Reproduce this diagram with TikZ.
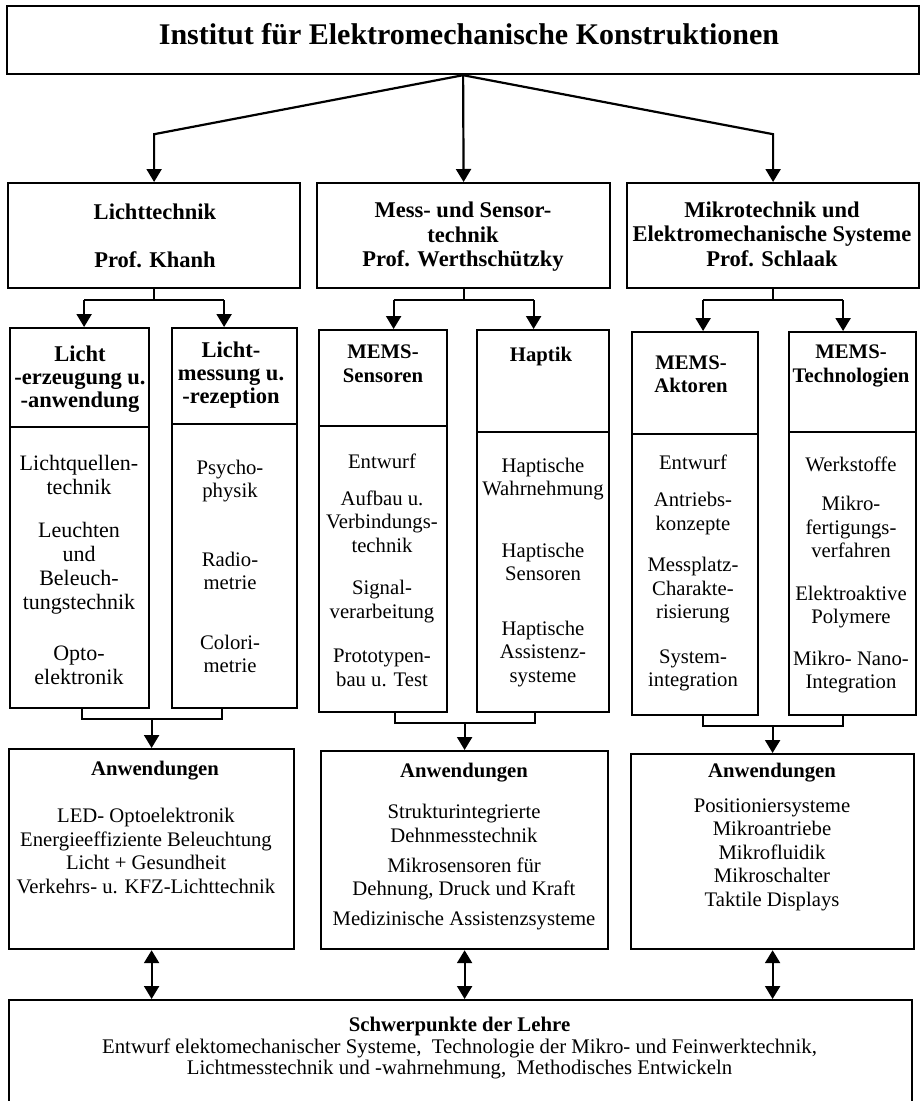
\documentclass[tikz,border=0pt]{standalone}
\usepackage{fontspec}
\setmainfont{Liberation Serif}
\usetikzlibrary{arrows.meta}

\begin{document}
\begin{tikzpicture}[
  x=1pt, y=-1pt,
  frame/.style={draw, line width=2.2pt, inner sep=0pt, anchor=north west},
  txt/.style={align=center, inner sep=0pt},
  head/.style={txt, font=\fontsize{22.5}{24.5}\selectfont\bfseries},
  lhead/.style={txt, font=\fontsize{22.5}{23}\selectfont\bfseries},
  lbody/.style={txt, font=\fontsize{22}{24}\selectfont},
  shead/.style={txt, font=\fontsize{20.7}{23.5}\selectfont\bfseries},
  sbody/.style={txt, font=\fontsize{20.7}{23.5}\selectfont},
  link/.style={line width=2.2pt},
  arr/.style={link, -{Triangle[length=13pt, width=15pt]}},
  darr/.style={link, {Triangle[length=13pt, width=15pt]}-{Triangle[length=13pt, width=15pt]}}
]
\useasboundingbox (0,0) rectangle (923,1101);

% Institut
\node[frame, minimum width=912, minimum height=68] (inst) at (6,5) {};
\node[txt, anchor=base, font=\fontsize{30}{32}\selectfont\bfseries] (title) at (469,44)
  {Institut für Elektromechanische Konstruktionen};

% Fachgebiete
\node[frame, minimum width=292, minimum height=105] (licht) at (7,182) {};
\node[frame, minimum width=293, minimum height=105] (mess) at (316,182) {};
\node[frame, minimum width=292, minimum height=105] (mikro) at (626,182) {};
\node[head] at (155,236) {Lichttechnik\\[24pt]Prof. Khanh};
\node[head] at (463,237) {Mess- und Sensor-\\technik\\Prof. Werthschützky};
\node[head] at (772,234) {Mikrotechnik und\\Elektromechanische Systeme\\Prof. Schlaak};

\path (inst.south) ++(0,59) coordinate (split);
\draw[arr] (inst.south) -- (split -| licht.north) -- (licht.north);
\draw[arr] (inst.south) -- (mess.north);
\draw[arr] (inst.south) -- (split -| mikro.north) -- (mikro.north);

% Arbeitsgebiete
\node[frame, minimum width=139, minimum height=380] (lerz) at (9,327) {};
\node[frame, minimum width=125, minimum height=380] (lmes) at (171,327) {};
\node[frame, minimum width=128, minimum height=382] (msen) at (318,329) {};
\node[frame, minimum width=132, minimum height=382] (hapt) at (476,329) {};
\node[frame, minimum width=126, minimum height=383] (makt) at (631,331) {};
\node[frame, minimum width=127, minimum height=383] (mtec) at (788,331) {};
\foreach \b/\d in {lerz/100, lmes/97, msen/97, hapt/103, makt/103, mtec/101}
  \draw[link] ([yshift=-\d pt]\b.north west) -- ([yshift=-\d pt]\b.north east);

\node[lhead] at (80,379) {Licht\\-erzeugung u.\\-anwendung};
\node[lhead] at (231,375) {Licht-\\messung u.\\-rezeption};
\node[shead] at (383,363.5) {MEMS-\\Sensoren};
\node[shead] at (541,357) {Haptik};
\node[shead] at (691,374) {MEMS-\\Aktoren};
\node[shead] at (851,366) {MEMS-\\Technologien};

\node[lbody] at (79,569.5) {Lichtquellen-\\technik\\[19pt]Leuchten\\und\\Beleuch-\\tungstechnik\\[27pt]Opto-\\elektronik};
\node[sbody] at (230,566.5) {Psycho-\\physik\\[45pt]Radio-\\metrie\\[36pt]Colori-\\metrie};
\node[sbody] at (382,570.5) {Entwurf\\[13pt]Aufbau u.\\Verbindungs-\\technik\\[19pt]Signal-\\verarbeitung\\[21pt]Prototypen-\\bau u. Test};
\node[sbody] at (543,572.5) {Haptische\\Wahrnehmung\\[38pt]Haptische\\Sensoren\\[31pt]Haptische\\Assistenz-\\systeme};
\node[sbody] at (693,573) {Entwurf\\[14pt]Antriebs-\\konzepte\\[18pt]Messplatz-\\Charakte-\\risierung\\[21pt]System-\\integration};
\node[sbody] at (851,575) {Werkstoffe\\[16pt]Mikro-\\fertigungs-\\verfahren\\[19pt]Elektroaktive\\Polymere\\[18pt]Mikro- Nano-\\Integration};

% Anwendungen
\node[frame, minimum width=285, minimum height=200] (alicht) at (8,748) {};
\node[frame, minimum width=287, minimum height=198] (amess) at (320,750) {};
\node[frame, minimum width=283, minimum height=195] (amikro) at (630,753) {};
\node[shead] at (155,771) {Anwendungen};
\node[shead] at (464,773) {Anwendungen};
\node[shead] at (772,773) {Anwendungen};
\node[sbody] at (146,851) {LED- Optoelektronik\\Energieeffiziente Beleuchtung\\Licht + Gesundheit\\Verkehrs- u. KFZ-Lichttechnik};
\node[sbody] at (464,867.5) {Strukturintegrierte\\Dehnmesstechnik\\[6.5pt]Mikrosensoren für\\Dehnung, Druck und Kraft\\[6.5pt]Medizinische Assistenzsysteme};
\node[sbody] at (772,854.5) {Positioniersysteme\\Mikroantriebe\\Mikrofluidik\\Mikroschalter\\Taktile Displays};

% Lehre
\node[frame, minimum width=903, minimum height=107] (lehre) at (8,999) {};
\node[txt, font=\fontsize{20.8}{21.5}\selectfont] at (459.5,1048.5)
  {\textbf{Schwerpunkte der Lehre}\\Entwurf elektomechanischer Systeme,~ Technologie der Mikro- und Feinwerktechnik,\\Lichtmesstechnik und -wahrnehmung,~ Methodisches Entwickeln};

% Verzweigungen
\foreach \p/\a/\b in {licht/lerz/lmes, mess/msen/hapt, mikro/makt/mtec} {
  \draw[link] (\p.south) -- ++(0,11) coordinate (\p-fork);
  \coordinate (\p-l) at ([xshift=-70pt]\p-fork);
  \coordinate (\p-r) at ([xshift=70pt]\p-fork);
  \draw[link] (\p-l) -- (\p-r);
  \draw[arr] (\p-l) -- (\p-l |- \a.north);
  \draw[arr] (\p-r) -- (\p-r |- \b.north);
}
\foreach \a/\b/\q in {lerz/lmes/alicht, msen/hapt/amess, makt/mtec/amikro} {
  \path ([yshift=-10pt]\a.south) coordinate (\q-low);
  \coordinate (\q-j) at (\q.north |- \q-low);
  \coordinate (\q-l) at ([xshift=-70pt]\q-j);
  \coordinate (\q-r) at ([xshift=70pt]\q-j);
  \draw[link] (\q-l |- \a.south) -- (\q-l) -- (\q-r) -- (\q-r |- \b.south);
  \draw[arr] (\q-j) -- (\q.north);
  \draw[darr] (\q.south) -- (\q.south |- lehre.north);
}
\end{tikzpicture}
\end{document}
